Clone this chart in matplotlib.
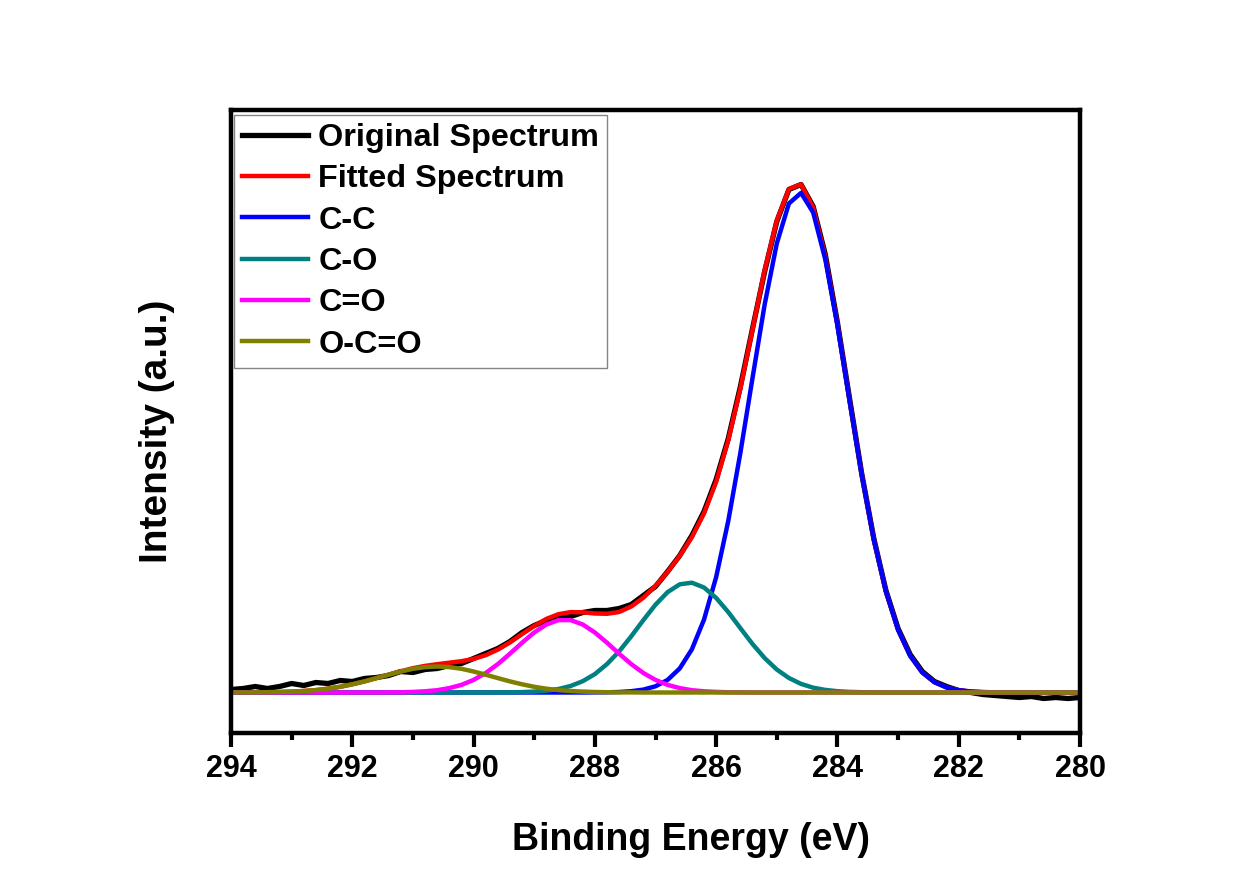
import numpy as np
import matplotlib
matplotlib.use('Agg')
import matplotlib.pyplot as plt
from matplotlib.ticker import MultipleLocator

plt.rcParams['font.family'] = ['Liberation Sans', 'DejaVu Sans']
plt.rcParams['font.weight'] = 'bold'

# binding energy grid (eV), 294 -> 280 in 0.2 eV steps
energy = np.linspace(294, 280, 71)

# intensities (arbitrary units, baseline = 0)
original = [3, 4, 6, 4, 6, 9, 7, 10, 9, 12, 11, 14, 15, 17, 21, 20, 23, 24, 27, 29,
            34, 39, 44, 51, 60, 67, 72, 75, 76, 80, 82, 82, 84, 88, 97, 106, 121, 137,
            157, 181, 213, 254, 306, 364, 421, 471, 503, 508, 486, 438, 370, 294, 219,
            154, 102, 64, 38, 21, 11, 6, 2, 0, -2, -3, -4, -5, -4, -6, -5, -6, -5]

c_c = [0] * 30 + [0.1, 0.2, 0.5, 1.3, 2.9, 6.2, 12.6, 24.1, 43.2, 72.9, 115.4, 171.6,
                  239.8, 314.6, 388, 449, 489, 499.6, 480, 433, 367, 292, 218, 153, 101,
                  62.7, 36.6, 20, 10.3, 5, 2.3, 1.0, 0.4, 0.2, 0.1] + [0] * 6

c_o = [0] * 22 + [0.1, 0.2, 0.4, 0.9, 1.8, 3.5, 6.5, 11.3, 18.4, 28.4, 41.1, 56.2, 72.4,
                  87.8, 100.4, 108.2, 109.8, 105, 94.6, 80.4, 64.3, 48.5, 34.4, 23, 14.5,
                  8.6, 4.8, 2.6, 1.3, 0.6, 0.3, 0.1] + [0] * 17

c_eq_o = [0] * 13 + [0.1, 0.2, 0.6, 1.2, 2.3, 4.4, 7.6, 12.6, 19.5, 28.4, 38.8, 49.8, 60.0,
                     68.0, 72.4, 72.4, 68.0, 60.0, 49.8, 38.8, 28.4, 19.5, 12.6, 7.6, 4.4,
                     2.3, 1.2, 0.6, 0.2, 0.1] + [0] * 28

o_c_eq_o = [0, 0.1, 0.1, 0.3, 0.5, 0.9, 1.5, 2.4, 3.8, 5.7, 8.2, 11.1, 14.4, 17.8, 21.0,
            23.7, 25.4, 26.0, 25.4, 23.7, 21.0, 17.8, 14.4, 11.1, 8.2, 5.7, 3.8, 2.4, 1.5,
            0.9, 0.5, 0.3, 0.1, 0.1] + [0] * 37

# fitted envelope = sum of the components
fitted = np.array(c_c) + np.array(c_o) + np.array(c_eq_o) + np.array(o_c_eq_o)

fig = plt.figure(figsize=(12.43, 8.71), dpi=100)
ax = fig.add_axes([231 / 1243, 1 - 733 / 871, 849 / 1243, 623 / 871])

lw = 3.2
ax.plot(energy, original, color='black', lw=lw + 0.6, label='Original Spectrum')
ax.plot(energy, fitted, color='red', lw=lw, label='Fitted Spectrum')
ax.plot(energy, c_c, color='blue', lw=lw, label='C-C')
ax.plot(energy, c_o, color='#008080', lw=lw, label='C-O')
ax.plot(energy, c_eq_o, color='#ff00ff', lw=lw, label='C=O')
ax.plot(energy, o_c_eq_o, color='#808000', lw=lw, label='O-C=O')

ax.set_xlim(294, 280)
ax.set_ylim(-40.5, 582.5)
ax.set_yticks([])
ax.xaxis.set_major_locator(MultipleLocator(2))
ax.xaxis.set_minor_locator(MultipleLocator(1))
ax.tick_params(axis='x', which='major', direction='out', length=10, width=3,
               labelsize=22, pad=5)
ax.tick_params(axis='x', which='minor', direction='out', length=5, width=3)
for s in ax.spines.values():
    s.set_linewidth(3.2)

ax.set_xlabel('Binding Energy (eV)', fontsize=27, fontweight='bold')
ax.xaxis.set_label_coords(0.542, -0.143)
ax.set_ylabel('Intensity (a.u.)', fontsize=28, fontweight='bold')
ax.yaxis.set_label_coords(-0.066, 0.485)

leg = ax.legend(loc='upper left', bbox_to_anchor=(3 / 849, (733 - 115) / 623),
                borderaxespad=0, fontsize=23.3, fancybox=False, edgecolor='0.4',
                handlelength=2.05, handletextpad=0.3, labelspacing=0.35, borderpad=0.25)
leg.get_frame().set_linewidth(1.0)
for t in leg.get_texts():
    t.set_fontweight('bold')

fig.savefig('out.png', dpi=100, facecolor='white')
